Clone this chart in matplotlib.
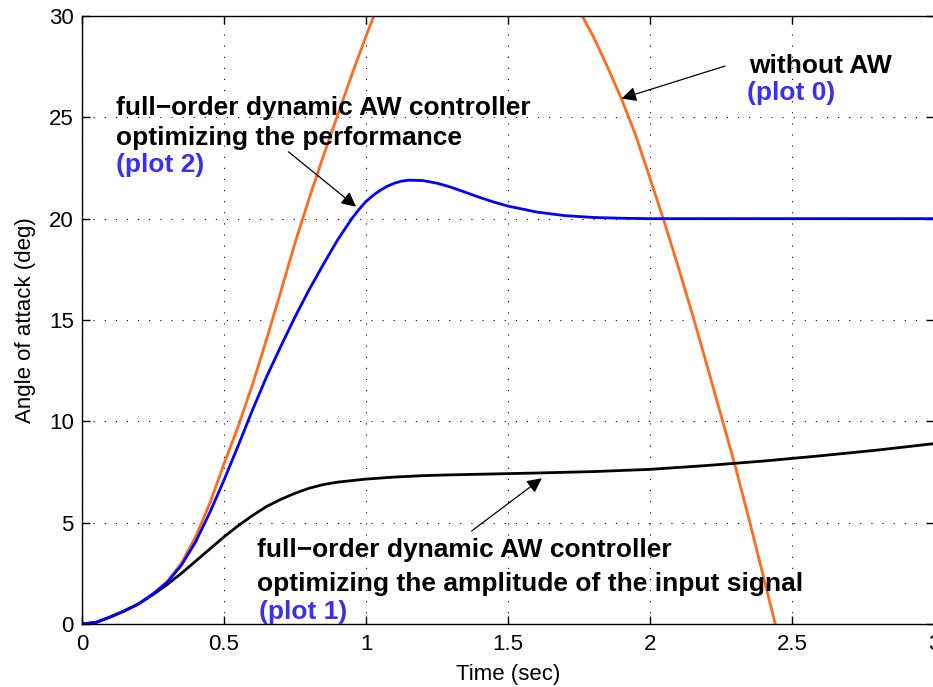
import matplotlib
matplotlib.use("Agg")
import matplotlib.pyplot as plt
import numpy as np

plt.rcParams['font.family'] = ['Liberation Sans', 'DejaVu Sans']

# without AW (plot 0)
t0 = [0.00, 0.05, 0.10, 0.15, 0.20, 0.25, 0.30, 0.35, 0.40, 0.45, 0.50, 0.55,
      0.60, 0.65, 0.70, 0.75, 0.80, 0.85, 0.90, 0.95, 1.00, 1.05, 1.10, 1.15,
      1.20, 1.25, 1.30, 1.35, 1.40, 1.45, 1.50, 1.55, 1.60, 1.65, 1.70, 1.75,
      1.80, 1.85, 1.90, 1.95, 2.00, 2.05, 2.10, 2.15, 2.20, 2.25, 2.30, 2.35,
      2.40, 2.45]
a0 = [0.00, 0.08, 0.35, 0.65, 1.00, 1.50, 2.10, 3.00, 4.30, 5.95, 7.90, 9.75,
      11.80, 14.05, 16.40, 18.80, 21.00, 23.10, 25.10, 27.10, 29.00, 30.80, 32.25, 33.30,
      34.00, 34.50, 34.80, 34.95, 34.90, 34.70, 34.30, 33.70, 33.00, 32.20, 31.30, 30.30,
      29.00, 27.50, 25.90, 24.10, 22.00, 19.85, 17.60, 15.25, 12.80, 10.30, 7.80, 5.10,
      2.30, -0.50]

# AW optimizing the performance (plot 2)
t2 = [0.00, 0.05, 0.10, 0.15, 0.20, 0.25, 0.30, 0.35, 0.40, 0.45, 0.50, 0.55,
      0.60, 0.65, 0.70, 0.75, 0.80, 0.85, 0.90, 0.95, 0.975, 1.00, 1.025, 1.05,
      1.075, 1.10, 1.125, 1.15, 1.20, 1.25, 1.30, 1.35, 1.40, 1.45, 1.50, 1.60,
      1.70, 1.80, 1.90, 2.00, 2.50, 3.00]
a2 = [0.00, 0.08, 0.35, 0.65, 1.00, 1.48, 2.05, 2.90, 4.05, 5.50, 7.10, 8.80,
      10.55, 12.20, 13.70, 15.15, 16.50, 17.75, 18.95, 20.00, 20.45, 20.85, 21.15, 21.40,
      21.60, 21.75, 21.85, 21.90, 21.88, 21.75, 21.55, 21.30, 21.05, 20.82, 20.62, 20.33,
      20.15, 20.06, 20.02, 20.00, 20.00, 20.00]

# AW optimizing the input amplitude (plot 1)
t1 = [0.00, 0.05, 0.10, 0.15, 0.20, 0.25, 0.30, 0.35, 0.40, 0.45, 0.50, 0.55,
      0.60, 0.65, 0.70, 0.75, 0.80, 0.85, 0.90, 1.00, 1.10, 1.20, 1.30, 1.40,
      1.50, 1.60, 1.80, 2.00, 2.20, 2.40, 2.60, 2.80, 3.00]
a1 = [0.00, 0.08, 0.35, 0.65, 1.00, 1.45, 1.95, 2.50, 3.10, 3.70, 4.30, 4.85,
      5.35, 5.80, 6.15, 6.45, 6.70, 6.88, 7.00, 7.15, 7.25, 7.32, 7.36, 7.39,
      7.42, 7.45, 7.52, 7.63, 7.82, 8.04, 8.30, 8.58, 8.90]

xticks = [0, 0.5, 1, 1.5, 2, 2.5, 3]
xticklabels = ['0', '0.5', '1', '1.5', '2', '2.5', '3']
yticks = [0, 5, 10, 15, 20, 25, 30]

orange = '#ff6a1f'
label_blue = '#3a30f0'

fig = plt.figure(figsize=(9.33, 6.87), dpi=100)
ax = fig.add_axes([82 / 933, 63 / 687, 852 / 933, 608 / 687])

ax.plot(t0, a0, color=orange, lw=2.0)
ax.plot(t1, a1, color='black', lw=2.0)
ax.plot(t2, a2, color='blue', lw=2.0)

ax.set_xlim(0, 3)
ax.set_ylim(0, 30)
ax.set_xticks(xticks)
ax.set_xticklabels(xticklabels)
ax.set_yticks(yticks)
ax.tick_params(direction='in', length=6, width=1, top=True, right=True,
               labelsize=16)
ax.tick_params(axis='x', pad=7)
ax.tick_params(axis='y', pad=6)
for s in ax.spines.values():
    s.set_linewidth(1.0)
ax.grid(True, color='black', lw=0.8, linestyle=(0, (1, 9)))

ax.set_xlabel('Time (sec)', fontsize=16)
ax.set_ylabel('Angle of attack (deg)', fontsize=16)
ax.xaxis.set_label_coords(0.5, -0.065)
ax.yaxis.set_label_coords(-0.054, 0.5)

fs = 19
# plot 2 annotation
ax.text(0.120, 25.11, 'full\u2212order dynamic AW controller', fontsize=fs,
        fontweight='bold', va='baseline')
ax.text(0.120, 23.63, 'optimizing the performance', fontsize=fs,
        fontweight='bold', va='baseline')
ax.text(0.120, 22.31, '(plot 2)', fontsize=fs, fontweight='bold',
        color=label_blue, va='baseline')

# plot 0 annotation
ax.text(2.350, 27.20, 'without AW', fontsize=fs, fontweight='bold', va='baseline')
ax.text(2.340, 25.85, '(plot 0)', fontsize=fs, fontweight='bold',
        color=label_blue, va='baseline')

# plot 1 annotation
ax.text(0.615, 3.29, 'full\u2212order dynamic AW controller', fontsize=fs,
        fontweight='bold', va='baseline')
ax.text(0.615, 1.64, 'optimizing the amplitude of the input signal', fontsize=fs,
        fontweight='bold', va='baseline')
ax.text(0.624, 0.23, '(plot 1)', fontsize=fs, fontweight='bold',
        color=label_blue, va='baseline')

arrow = dict(arrowstyle='-|>', color='black', lw=0.9, mutation_scale=22,
             shrinkA=0, shrinkB=0)
ax.annotate('', xy=(0.965, 20.59), xytext=(0.727, 23.30), arrowprops=arrow)
ax.annotate('', xy=(1.900, 25.93), xytext=(2.264, 27.53), arrowprops=arrow)
ax.annotate('', xy=(1.619, 7.19), xytext=(1.372, 4.59), arrowprops=arrow)

fig.savefig('out.png', dpi=100)
